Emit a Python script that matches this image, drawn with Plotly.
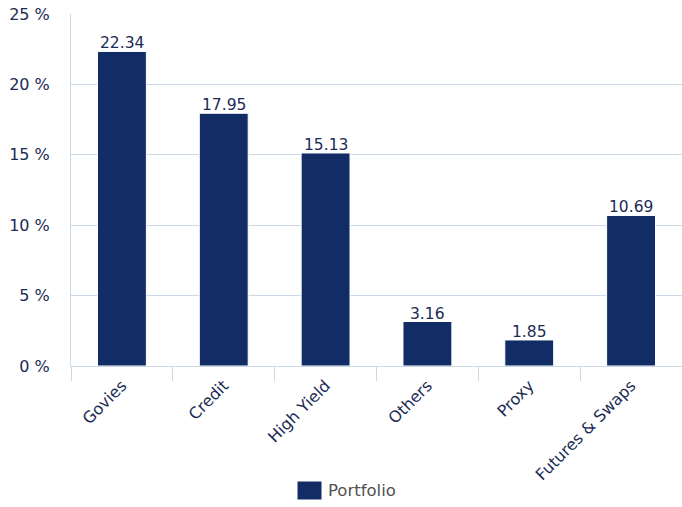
import plotly.graph_objects as go

categories = ["Govies", "Credit", "High Yield", "Others", "Proxy", "Futures & Swaps"]
portfolio = [22.34, 17.95, 15.13, 3.16, 1.85, 10.69]
y_ticks = [0, 5, 10, 15, 20, 25]
y_tick_labels = [f"{v} %" for v in y_ticks]
series_name = "Portfolio"

BAR = "#122c66"
TEXT = "#1b2b55"
GRID = "#cdd8e8"
FONT = "DejaVu Sans"

fig = go.Figure()
fig.add_trace(go.Bar(
    x=categories,
    y=portfolio,
    name=series_name,
    width=0.48,
    marker=dict(color=BAR, line=dict(color="#ffffff", width=1)),
    showlegend=False,
))

# value labels sitting just above each bar
for cat, val in zip(categories, portfolio):
    fig.add_annotation(x=cat, y=val, text=f"{val:.2f}", showarrow=False,
                       xanchor="center", yanchor="bottom", yshift=-3,
                       font=dict(family=FONT, size=15.5, color=TEXT))

# legend swatch and label
fig.add_shape(type="rect", xref="paper", yref="paper",
              x0=(297.5 - 71) / 611, x1=(321.5 - 71) / 611,
              y0=-(481.5 - 366) / 352, y1=-(499.5 - 366) / 352,
              fillcolor=BAR, line=dict(width=0))
fig.add_annotation(xref="paper", yref="paper",
                   x=(326 - 71) / 611, y=-(491 - 366) / 352,
                   text=series_name, showarrow=False,
                   xanchor="left", yanchor="middle",
                   font=dict(family=FONT, size=16.5, color="#505050"))

fig.update_layout(
    width=682, height=507,
    margin=dict(l=71, r=0, t=14, b=141),
    paper_bgcolor="white", plot_bgcolor="white",
    font=dict(family=FONT, size=16, color=TEXT),
)
fig.update_xaxes(
    showline=True, linecolor=GRID, linewidth=1,
    ticks="outside", tickson="boundaries", ticklen=14, tickcolor=GRID,
    tickangle=-45, tickfont=dict(family=FONT, size=16, color=TEXT),
    ticklabelstandoff=3,
    showgrid=False, range=[-0.5, 5.5],
)
fig.update_yaxes(
    range=[0, 25], tickvals=y_ticks, ticktext=y_tick_labels,
    showgrid=True, gridcolor=GRID, gridwidth=1,
    showline=True, linecolor=GRID, linewidth=1,
    zeroline=False, ticks="", ticklabelstandoff=17,
    tickfont=dict(family=FONT, size=16, color=TEXT),
)

fig.write_html("out.html")
